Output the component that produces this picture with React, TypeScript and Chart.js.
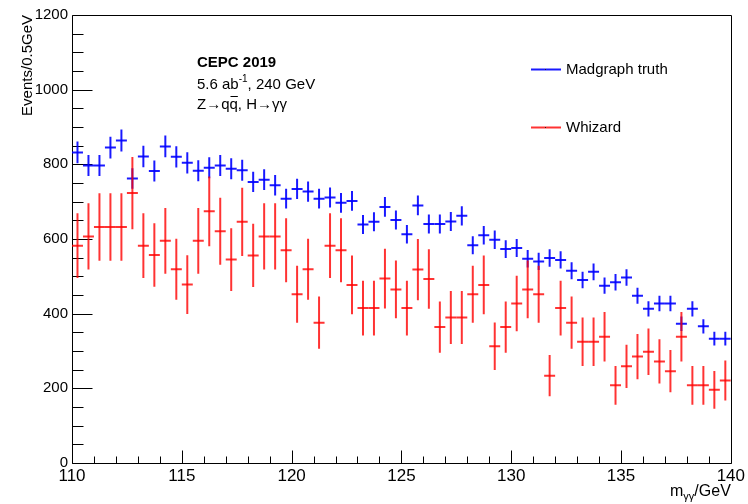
import React, { useEffect, useRef } from "react";
import { Chart, registerables } from "chart.js";

Chart.register(...registerables);

// ---- data ----
const BIN_CENTERS = [
  110.25, 110.75, 111.25, 111.75, 112.25, 112.75, 113.25, 113.75, 114.25, 114.75,
  115.25, 115.75, 116.25, 116.75, 117.25, 117.75, 118.25, 118.75, 119.25, 119.75,
  120.25, 120.75, 121.25, 121.75, 122.25, 122.75, 123.25, 123.75, 124.25, 124.75,
  125.25, 125.75, 126.25, 126.75, 127.25, 127.75, 128.25, 128.75, 129.25, 129.75,
  130.25, 130.75, 131.25, 131.75, 132.25, 132.75, 133.25, 133.75, 134.25, 134.75,
  135.25, 135.75, 136.25, 136.75, 137.25, 137.75, 138.25, 138.75, 139.25, 139.75,
];
const HALF_BIN = 0.25;

const MADGRAPH = [
  832, 797, 797, 845, 864, 762, 821, 782, 848, 820,
  804, 783, 791, 797, 788, 784, 753, 759, 744, 708,
  734, 727, 708, 711, 697, 702, 639, 646, 686, 651,
  613, 690, 640, 640, 647, 662, 583, 610, 598, 573,
  576, 547, 540, 549, 544, 515, 490, 512, 475, 484,
  497, 448, 413, 427, 427, 373, 413, 366, 333, 333,
];

const WHIZARD = [
  582, 607, 632, 632, 632, 723, 582, 557, 595, 519,
  478, 595, 674, 621, 545, 646, 556, 607, 607, 570,
  452, 519, 376, 582, 570, 477, 415, 415, 494, 465,
  415, 518, 493, 364, 390, 390, 452, 477, 313, 364,
  427, 465, 452, 234, 415, 376, 325, 325, 338, 208,
  259, 285, 298, 272, 246, 338, 208, 208, 196, 221,
];
// per-event weight of the Whizard sample (errors are sqrt(sum w^2))
const WHIZARD_WEIGHT = 12.94;

const MADGRAPH_ERR = MADGRAPH.map((v) => Math.sqrt(v));
const WHIZARD_ERR = WHIZARD.map((v) => Math.sqrt(v * WHIZARD_WEIGHT));

const X_MIN = 110, X_MAX = 140, X_MAJOR = 5, X_MINOR = 1;
const Y_MIN = 0, Y_MAX = 1200, Y_MAJOR = 200, Y_MINOR = 50;

const SERIES_NAMES = ["Madgraph truth", "Whizard"];
const Y_TITLE = "Events/0.5GeV";
const LABEL_TITLE = "CEPC 2019";

const FONT = '"Liberation Sans", Arial, Helvetica, sans-serif';
const BLUE = "rgba(0,0,255,0.9)";
const RED = "rgba(255,0,0,0.8)";

const ERRORS: Record<string, number[]> = {
  [SERIES_NAMES[0]]: MADGRAPH_ERR,
  [SERIES_NAMES[1]]: WHIZARD_ERR,
};

const crisp = (v: number) => Math.round(v) + 0.5;

const rootPlugin = {
  id: "rootStyle",
  beforeDatasetsDraw(chart: any) {
    const { ctx, chartArea: a, scales } = chart;
    const x = scales.x, y = scales.y;
    ctx.save();
    ctx.strokeStyle = "#000";
    ctx.lineWidth = 1;
    ctx.beginPath();
    const L = crisp(a.left), R = crisp(a.right), T = crisp(a.top), B = crisp(a.bottom);
    ctx.moveTo(L, T); ctx.lineTo(R, T); ctx.lineTo(R, B); ctx.lineTo(L, B); ctx.closePath();
    // y ticks (inward)
    for (let v = Y_MIN; v <= Y_MAX; v += Y_MINOR) {
      const py = crisp(y.getPixelForValue(v));
      const len = v % Y_MAJOR === 0 ? 20 : 11;
      ctx.moveTo(L, py); ctx.lineTo(L + len, py);
    }
    // x ticks (inward)
    for (let v = X_MIN; v <= X_MAX; v += X_MINOR) {
      const px = crisp(x.getPixelForValue(v));
      const len = (v - X_MIN) % X_MAJOR === 0 ? 13 : 7;
      ctx.moveTo(px, B); ctx.lineTo(px, B - len);
    }
    ctx.stroke();
    ctx.restore();
  },
  afterDatasetDraw(chart: any, args: any) {
    const { ctx, chartArea: a, scales } = chart;
    const y = scales.y;
    const ds = chart.data.datasets[args.index];
    const errs = ERRORS[ds.label];
    if (!errs) return;
    ctx.save();
    ctx.beginPath();
    ctx.rect(a.left, a.top, a.right - a.left, a.bottom - a.top);
    ctx.clip();
    ctx.strokeStyle = ds.pointBorderColor;
    ctx.lineWidth = ds.pointBorderWidth;
    ctx.beginPath();
    args.meta.data.forEach((el: any, i: number) => {
      const v = ds.data[i].y;
      const e = errs[i];
      ctx.moveTo(el.x, y.getPixelForValue(v - e));
      ctx.lineTo(el.x, y.getPixelForValue(v + e));
    });
    ctx.stroke();
    ctx.restore();
  },
  afterDraw(chart: any) {
    const { ctx, chartArea: a } = chart;
    ctx.save();
    ctx.fillStyle = "#000";
    ctx.textAlign = "left";
    ctx.textBaseline = "alphabetic";

    // annotation block
    const tx = 197;
    ctx.font = `bold 15px ${FONT}`;
    ctx.fillText(LABEL_TITLE, tx, 67);

    ctx.font = `15px ${FONT}`;
    let cx = tx;
    ctx.fillText("5.6 ab", cx, 89);
    cx += ctx.measureText("5.6 ab").width;
    ctx.font = `10px ${FONT}`;
    ctx.fillText("-1", cx, 82);
    cx += ctx.measureText("-1").width;
    ctx.font = `15px ${FONT}`;
    ctx.fillText(", 240 GeV", cx, 89);

    cx = tx;
    ctx.fillText("Z\u2192q", cx, 109);
    cx += ctx.measureText("Z\u2192q").width;
    const qw = ctx.measureText("q").width;
    ctx.fillText("q", cx, 109);
    ctx.fillRect(cx + 1, 96, qw - 1, 1);
    cx += qw;
    ctx.fillText(", H\u2192\u03b3\u03b3", cx, 109);

    // x-axis title (right aligned)
    ctx.font = `16px ${FONT}`;
    const part1 = "m";
    const part3 = "/GeV";
    const w1 = ctx.measureText(part1).width;
    const w3 = ctx.measureText(part3).width;
    ctx.font = `11px ${FONT}`;
    const w2 = ctx.measureText("\u03b3\u03b3").width;
    const xr = a.right;
    let sx = xr - (w1 + w2 + w3);
    ctx.font = `16px ${FONT}`;
    ctx.fillText(part1, sx, 496);
    sx += w1;
    ctx.font = `11px ${FONT}`;
    ctx.fillText("\u03b3\u03b3", sx, 500);
    sx += w2;
    ctx.font = `16px ${FONT}`;
    ctx.fillText(part3, sx, 496);

    // legend
    const entries = [
      { name: SERIES_NAMES[0], color: BLUE, y: 69.5 },
      { name: SERIES_NAMES[1], color: RED, y: 127.5 },
    ];
    ctx.font = `15px ${FONT}`;
    ctx.textBaseline = "middle";
    entries.forEach((en) => {
      ctx.strokeStyle = en.color;
      ctx.lineWidth = 2;
      ctx.beginPath();
      ctx.moveTo(531, en.y);
      ctx.lineTo(561, en.y);
      ctx.stroke();
      ctx.fillStyle = "#222";
      ctx.fillRect(545, en.y - 0.5, 1, 1);
      ctx.fillStyle = "#000";
      ctx.fillText(en.name, 566, en.y);
    });
    ctx.restore();
  },
};

const halfBinRadius = (c: any) => {
  const s = c.chart.scales.x;
  return Math.abs(s.getPixelForValue(X_MIN + 2 * HALF_BIN) - s.getPixelForValue(X_MIN)) / 2;
};

export default function App() {
  const ref = useRef<HTMLCanvasElement | null>(null);
  useEffect(() => {
    if (!ref.current) return;
    const chart = new Chart(ref.current, {
      type: "scatter",
      data: {
        datasets: [
          {
            label: SERIES_NAMES[0],
            data: BIN_CENTERS.map((x, i) => ({ x, y: MADGRAPH[i] })),
            showLine: false,
            pointStyle: "line",
            pointRadius: halfBinRadius,
            pointBorderWidth: 2,
            pointBorderColor: BLUE,
            pointBackgroundColor: BLUE,
            order: 2,
          } as any,
          {
            label: SERIES_NAMES[1],
            data: BIN_CENTERS.map((x, i) => ({ x, y: WHIZARD[i] })),
            showLine: false,
            pointStyle: "line",
            pointRadius: halfBinRadius,
            pointBorderWidth: 2,
            pointBorderColor: RED,
            pointBackgroundColor: RED,
            order: 1,
          } as any,
        ],
      },
      options: {
        animation: false,
        responsive: false,
        devicePixelRatio: 1,
        events: [],
        layout: { padding: { left: 0, right: 16, top: 15, bottom: 0 } },
        plugins: {
          legend: { display: false },
          tooltip: { enabled: false },
        },
        scales: {
          x: {
            type: "linear",
            min: X_MIN,
            max: X_MAX,
            grid: { display: false, drawTicks: false },
            border: { display: false },
            ticks: {
              stepSize: X_MAJOR,
              autoSkip: false,
              maxRotation: 0,
              padding: 3,
              color: "#000",
              font: { family: FONT, size: 17 },
              callback: (v: any) => String(v),
            },
            afterFit: (s: any) => {
              s.height = 41;
            },
          },
          y: {
            type: "linear",
            min: Y_MIN,
            max: Y_MAX,
            grid: { display: false, drawTicks: false },
            border: { display: false },
            ticks: {
              stepSize: Y_MAJOR,
              autoSkip: false,
              padding: 4,
              color: "#000",
              font: { family: FONT, size: 15 },
              callback: (v: any) => String(v),
            },
            title: {
              display: true,
              text: Y_TITLE,
              align: "end",
              color: "#000",
              font: { family: FONT, size: 15 },
              padding: { top: 19, bottom: 0 },
            },
            afterFit: (s: any) => {
              s.width = 72;
            },
          },
        },
      } as any,
      plugins: [rootPlugin],
    });
    return () => chart.destroy();
  }, []);
  return (
    <div style={{ position: "absolute", left: 0, top: 0, width: 748, height: 504, background: "#fff" }}>
      <canvas ref={ref} width={748} height={504} style={{ display: "block" }} />
    </div>
  );
}
